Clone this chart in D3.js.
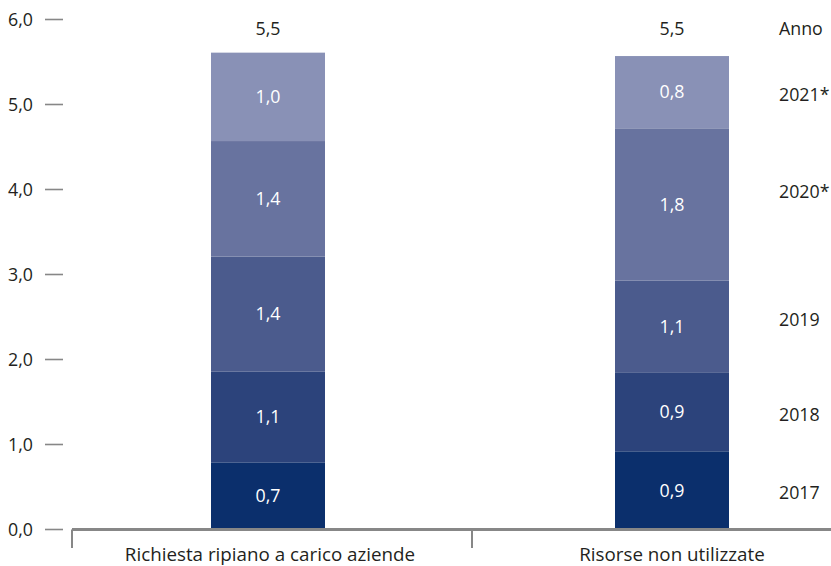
<!DOCTYPE html>
<html><head><meta charset="utf-8">
<script src="https://cdn.jsdelivr.net/npm/d3@7"></script>
<style>
body{margin:0;background:#fff;}
text{font-family:"Open Sans",sans-serif;}
</style></head>
<body><svg id="c" width="831" height="566"></svg>
<script>
const categories = ["Richiesta ripiano a carico aziende", "Risorse non utilizzate"];
const years = ["2017", "2018", "2019", "2020*", "2021*"];
// segment heights (billion €), bottom to top
const richiesta = [0.79, 1.07, 1.35, 1.36, 1.04];
const risorse   = [0.92, 0.93, 1.08, 1.79, 0.85];
// labels printed on segments
const richiestaLabels = ["0,7", "1,1", "1,4", "1,4", "1,0"];
const risorseLabels   = ["0,9", "0,9", "1,1", "1,8", "0,8"];
const totals = ["5,5", "5,5"];
const yTicks = [0, 1, 2, 3, 4, 5, 6];
const colors = ["#0b2f6c", "#2c437b", "#4b5b8d", "#68739f", "#8991b6"];

const svg = d3.select("#c");
const y = d3.scaleLinear().domain([0, 6]).range([529.5, 19.5]);
const x = d3.scaleBand().domain(categories).range([72, 872]);
const barW = 114;
const ink = "#231f20", gray = "#878787";
const fs = 17.8;

// y axis labels + dashes
const yg = svg.append("g");
yTicks.forEach(t => {
  yg.append("text").attr("x", 33).attr("y", y(t)).attr("dy", "0.35em")
    .attr("text-anchor", "end").attr("font-size", fs).attr("fill", ink)
    .text(d3.format(".1f")(t).replace(".", ","));
  yg.append("line").attr("x1", 45).attr("x2", 63).attr("y1", y(t)).attr("y2", y(t))
    .attr("stroke", gray).attr("stroke-width", 1.6);
});

const series = [richiesta, risorse];
const labels = [richiestaLabels, risorseLabels];
const segCenters = [[], []];
categories.forEach((c, ci) => {
  const cx = x(c) + x.bandwidth() / 2 - (ci === 0 ? 4 : 0);
  let cum = 0;
  series[ci].forEach((v, i) => {
    const y0 = y(cum), y1 = y(cum + v);
    svg.append("rect").attr("x", cx - barW / 2).attr("width", barW)
      .attr("y", y1).attr("height", y0 - y1).attr("fill", colors[i]);
    svg.append("text").attr("x", cx).attr("y", (y0 + y1) / 2).attr("dy", "0.35em")
      .attr("text-anchor", "middle").attr("font-size", fs).attr("fill", "#fff")
      .text(labels[ci][i]);
    segCenters[ci].push((y0 + y1) / 2);
    cum += v;
  });
  svg.append("text").attr("x", cx).attr("y", 29).attr("dy", "0.35em")
    .attr("text-anchor", "middle").attr("font-size", fs).attr("fill", ink)
    .text(totals[ci]);
  svg.append("text").attr("x", x(c) + x.bandwidth() / 2 - (ci === 0 ? 2 : 0)).attr("y", 561)
    .attr("text-anchor", "middle").attr("font-size", 18.8).attr("fill", ink)
    .text(c);
});

// legend: years at right
svg.append("text").attr("x", 779).attr("y", 29).attr("dy", "0.35em")
  .attr("font-size", fs).attr("fill", ink).text("Anno");
years.forEach((yr, i) => {
  const yy = (segCenters[0][i] + segCenters[1][i]) / 2 - (i === 3 ? 10 : 0);
  svg.append("text").attr("x", 779).attr("y", yy).attr("dy", "0.35em")
    .attr("font-size", fs).attr("fill", ink).text(yr);
});

// baseline axis + category separators
svg.append("line").attr("x1", 72).attr("x2", 831).attr("y1", y(0)).attr("y2", y(0))
  .attr("stroke", gray).attr("stroke-width", 3);
[x(categories[0]), x(categories[1])].forEach(px => {
  svg.append("line").attr("x1", px).attr("x2", px).attr("y1", y(0)).attr("y2", 548)
    .attr("stroke", gray).attr("stroke-width", 2);
});
</script></body></html>
